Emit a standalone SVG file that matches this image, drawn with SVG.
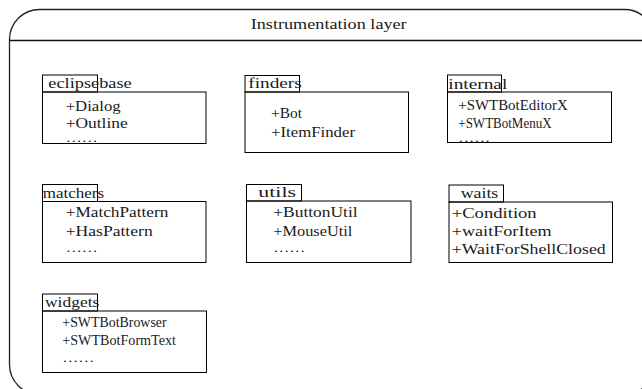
<svg xmlns="http://www.w3.org/2000/svg" width="642" height="389" viewBox="0 0 642 389">
<style>
.bx{fill:none;stroke:#000;stroke-width:1}
.t{font-family:"Liberation Serif","DejaVu Serif",serif;font-size:15px;fill:#1a1a1a}
.d{font-family:"Liberation Serif","DejaVu Serif",serif;font-size:12px;fill:#1a1a1a}
</style>
<rect x="0" y="0" width="642" height="389" fill="#fff"/>
<g id="layer">
<rect x="9.5" y="9.5" width="645" height="385" rx="30" ry="30" fill="none" stroke="#222" stroke-width="1.3"/>
<line x1="9.5" y1="40.5" x2="655" y2="40.5" stroke="#111" stroke-width="1.3"/>
<text class="t" x="250.7" y="29.3" textLength="156" lengthAdjust="spacingAndGlyphs">Instrumentation layer</text>
</g>
<g id="eclipsebase">
<rect class="bx" x="42.5" y="92" width="163.5" height="51.5"/>
<rect class="bx" x="42.5" y="75" width="55" height="17"/>
<text class="t" x="48.3" y="88.3" textLength="83.4" lengthAdjust="spacingAndGlyphs">eclipsebase</text>
<text class="t" x="65.7" y="110.7" textLength="55" lengthAdjust="spacingAndGlyphs">+Dialog</text>
<text class="t" x="65.7" y="128.3" textLength="62" lengthAdjust="spacingAndGlyphs">+Outline</text>
<text class="d" x="65.7" y="141.7" textLength="32" lengthAdjust="spacingAndGlyphs">……</text>
</g>
<g id="finders">
<rect class="bx" x="245" y="92" width="163.5" height="60.5"/>
<rect class="bx" x="245" y="75.5" width="54.5" height="16.5"/>
<text class="t" x="248.3" y="88.3" textLength="53.4" lengthAdjust="spacingAndGlyphs">finders</text>
<text class="t" x="271" y="118.3" textLength="31" lengthAdjust="spacingAndGlyphs">+Bot</text>
<text class="t" x="271" y="136.7" textLength="84" lengthAdjust="spacingAndGlyphs">+ItemFinder</text>
</g>
<g id="internal">
<rect class="bx" x="447.5" y="92" width="164" height="50.5"/>
<rect class="bx" x="447.5" y="75" width="54" height="17"/>
<text class="t" x="448.3" y="89.3" textLength="59" lengthAdjust="spacingAndGlyphs">internal</text>
<text class="t" x="458.3" y="110" textLength="109.4" lengthAdjust="spacingAndGlyphs">+SWTBotEditorX</text>
<text class="t" x="458.3" y="127.7" textLength="93.3" lengthAdjust="spacingAndGlyphs">+SWTBotMenuX</text>
<text class="d" x="458.3" y="141.7" textLength="32" lengthAdjust="spacingAndGlyphs">……</text>
</g>
<g id="matchers">
<rect class="bx" x="42.5" y="201.5" width="163.5" height="61"/>
<rect class="bx" x="42.5" y="184.5" width="55" height="17"/>
<text class="t" x="42.7" y="198.3" textLength="61.3" lengthAdjust="spacingAndGlyphs">matchers</text>
<text class="t" x="65.7" y="217.3" textLength="102.7" lengthAdjust="spacingAndGlyphs">+MatchPattern</text>
<text class="t" x="65.7" y="235.7" textLength="87" lengthAdjust="spacingAndGlyphs">+HasPattern</text>
<text class="d" x="65.7" y="251.7" textLength="32" lengthAdjust="spacingAndGlyphs">……</text>
</g>
<g id="utils">
<rect class="bx" x="246.5" y="201" width="164.5" height="61.5"/>
<rect class="bx" x="246.5" y="184.5" width="55" height="16.5"/>
<text class="t" x="258.3" y="197.3" textLength="37.7" lengthAdjust="spacingAndGlyphs">utils</text>
<text class="t" x="273.3" y="217.3" textLength="84.3" lengthAdjust="spacingAndGlyphs">+ButtonUtil</text>
<text class="t" x="273.3" y="235.7" textLength="79" lengthAdjust="spacingAndGlyphs">+MouseUtil</text>
<text class="d" x="273.3" y="251.7" textLength="32" lengthAdjust="spacingAndGlyphs">……</text>
</g>
<g id="waits">
<rect class="bx" x="449" y="202" width="163.5" height="60.5"/>
<rect class="bx" x="449" y="185" width="54.5" height="17"/>
<text class="t" x="460.7" y="198.3" textLength="37.6" lengthAdjust="spacingAndGlyphs">waits</text>
<text class="t" x="451.7" y="218.3" textLength="85" lengthAdjust="spacingAndGlyphs">+Condition</text>
<text class="t" x="451.7" y="235.7" textLength="100" lengthAdjust="spacingAndGlyphs">+waitForItem</text>
<text class="t" x="451.7" y="254.3" textLength="154" lengthAdjust="spacingAndGlyphs">+WaitForShellClosed</text>
</g>
<g id="widgets">
<rect class="bx" x="42.5" y="311" width="164" height="61.5"/>
<rect class="bx" x="42.5" y="294" width="55" height="17"/>
<text class="t" x="45" y="306.7" textLength="54.3" lengthAdjust="spacingAndGlyphs">widgets</text>
<text class="t" x="62.3" y="326.7" textLength="104.3" lengthAdjust="spacingAndGlyphs">+SWTBotBrowser</text>
<text class="t" x="62.3" y="345" textLength="113.7" lengthAdjust="spacingAndGlyphs">+SWTBotFormText</text>
<text class="d" x="62.3" y="361.7" textLength="32" lengthAdjust="spacingAndGlyphs">……</text>
</g>
<g id="connectors"></g>
</svg>
